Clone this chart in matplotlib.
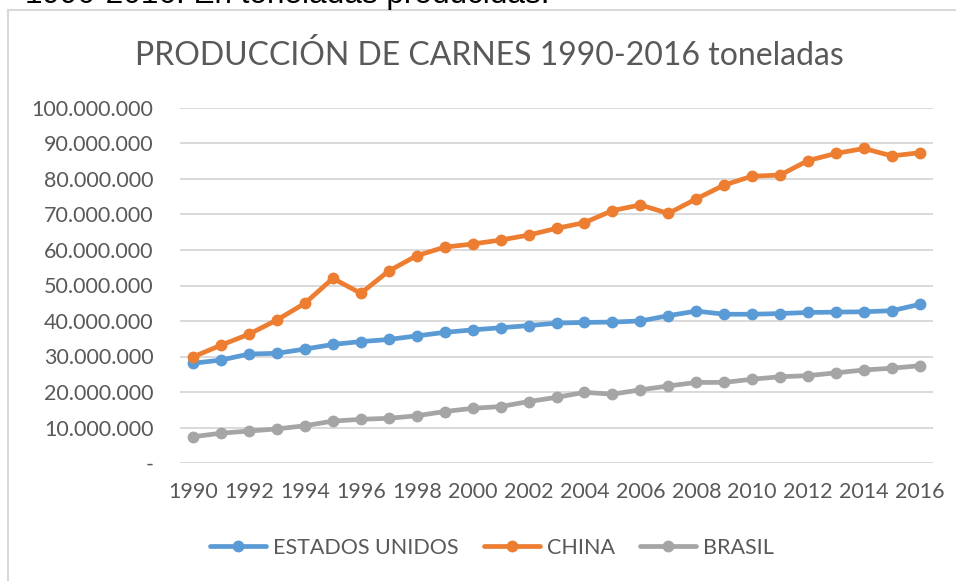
import matplotlib
matplotlib.use("Agg")
import matplotlib.pyplot as plt
from matplotlib.lines import Line2D
from matplotlib.ticker import FuncFormatter

# ── Data (toneladas) ──────────────────────────────────────────────────────────
years = list(range(1990, 2017))
estados_unidos = [28.1, 29.0, 30.7, 30.9, 32.1, 33.4, 34.2, 34.8, 35.8, 36.8,
                  37.5, 38.1, 38.7, 39.4, 39.6, 39.7, 40.0, 41.5, 42.8, 41.9,
                  41.9, 42.1, 42.4, 42.5, 42.6, 42.9, 44.7]
china = [29.9, 33.2, 36.3, 40.3, 45.0, 52.0, 47.8, 54.1, 58.4, 60.8,
         61.7, 62.8, 64.2, 66.1, 67.7, 71.1, 72.7, 70.3, 74.4, 78.3,
         80.8, 81.1, 85.2, 87.2, 88.6, 86.5, 87.4]
brasil = [7.4, 8.4, 9.0, 9.6, 10.5, 11.8, 12.3, 12.6, 13.3, 14.5,
          15.4, 15.9, 17.3, 18.5, 19.9, 19.4, 20.6, 21.7, 22.7, 22.7,
          23.6, 24.3, 24.6, 25.4, 26.2, 26.7, 27.4]
series_names = ["ESTADOS UNIDOS", "CHINA", "BRASIL"]
colors = ["#5B9BD5", "#ED7D31", "#A5A5A5"]

TITLE = "PRODUCCIÓN DE CARNES 1990-2016 toneladas"
ABOVE = "1990-2016. En toneladas producidas."

TEXT_GREY = "#595959"
FONT = "Lato"


def es_format(v, _pos):
    if abs(v) < 1:
        return "-"
    return f"{v:,.0f}".replace(",", ".")


fig = plt.figure(figsize=(9.56, 5.81), dpi=100)
W, H = 956, 581
ax = fig.add_axes([180 / W, 1 - 463 / H, 753 / W, 355 / H])

for name, vals, c in zip(series_names, [estados_unidos, china, brasil], colors):
    ax.plot(years, [v * 1e6 for v in vals], color=c, lw=3.4, marker="o",
            markersize=7.5, label=name, solid_capstyle="round", zorder=3)

ax.set_xlim(1989.53, 2016.47)
ax.set_ylim(0, 100e6)
ax.set_yticks([i * 10e6 for i in range(11)])
ax.yaxis.set_major_formatter(FuncFormatter(es_format))
ax.set_xticks(years[::2])
ax.grid(axis="y", color="#D9D9D9", lw=1.4, zorder=0)
ax.set_axisbelow(True)
for s in ax.spines.values():
    s.set_visible(False)
ax.tick_params(length=0, labelsize=15.5, labelcolor=TEXT_GREY)
ax.tick_params(axis="y", pad=19)
ax.tick_params(axis="x", pad=14)
for lab in ax.get_xticklabels() + ax.get_yticklabels():
    lab.set_family(FONT)

# chart frame (only left and top edges fall inside the picture)
fig.add_artist(Line2D([8 / W, 8 / W], [0, 1 - 10 / H], transform=fig.transFigure,
                      color="#D9D9D9", lw=1.5))
fig.add_artist(Line2D([8 / W, 1], [1 - 10 / H, 1 - 10 / H], transform=fig.transFigure,
                      color="#D9D9D9", lw=1.5))

fig.text(489 / W, 1 - 65 / H, TITLE, ha="center", va="baseline",
         fontsize=23, color=TEXT_GREY, family=FONT)
# caption of the surrounding document, cut off by the top edge as in the source
fig.text(25 / W, 1 - 3.5 / H, ABOVE, ha="left", va="baseline",
         fontsize=22.7, color="black", family="Liberation Sans")

fig.legend(loc="center", bbox_to_anchor=(492 / W, 1 - 548 / H), ncol=3,
           frameon=False, handlelength=2.6, handletextpad=0.3,
           columnspacing=1.2, prop={"family": FONT, "size": 15.5},
           labelcolor=TEXT_GREY)

fig.savefig("out.png", dpi=100)
